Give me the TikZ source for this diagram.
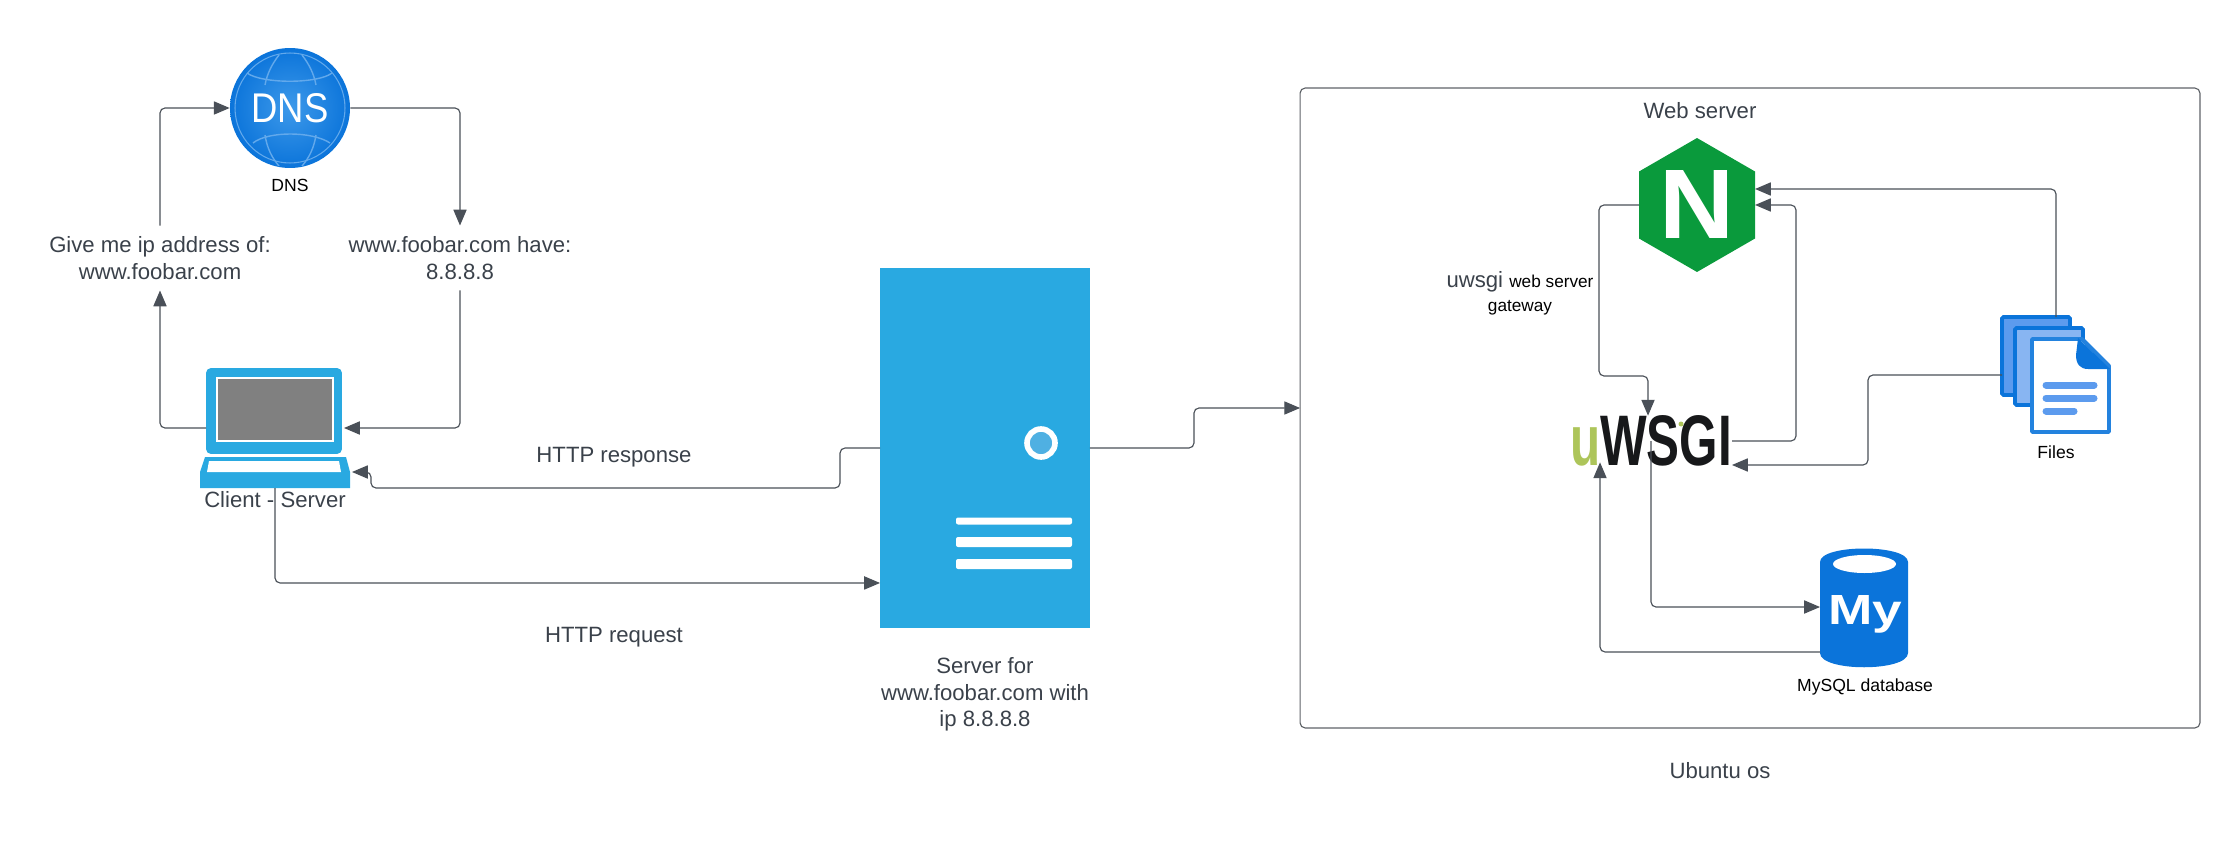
\documentclass[tikz,border=0pt]{standalone}
\usepackage{fontspec}
\setmainfont{Liberation Sans}
\usetikzlibrary{shapes,arrows.meta}
\definecolor{inkgrey}{HTML}{3A414A}
\definecolor{linegrey}{HTML}{4A5058}
\definecolor{boxgrey}{HTML}{5F6368}
\definecolor{skyblue}{HTML}{29A9E1}
\definecolor{ledblue}{HTML}{4FB0E2}
\definecolor{dbblue}{HTML}{0B74DA}
\definecolor{globecore}{HTML}{3D99EA}
\definecolor{sheetdark}{HTML}{5C9BEE}
\definecolor{sheetlight}{HTML}{88B5F2}
\definecolor{nginxgreen}{HTML}{0A9A3C}
\definecolor{wsgilime}{HTML}{ADC55A}
\definecolor{wsgiblack}{HTML}{17181A}
\definecolor{globeline}{HTML}{62A9EC}
\tikzstyle{conn} = [draw=linegrey, line width=.65pt, rounded corners=.1cm, -{Triangle[length=9pt,width=7.5pt]}]
\tikzstyle{caption} = [text=inkgrey, font=\fontsize{12.6}{15.2}\selectfont, align=center, inner sep=0pt, outer sep=0pt]
\tikzstyle{tiny} = [text=black, font=\fontsize{10}{12}\selectfont, align=center, inner sep=0pt, outer sep=0pt]
\tikzstyle{icon} = [rectangle, inner sep=0pt, outer sep=0pt]
\tikzstyle{sheet} = [icon, draw=dbblue, line width=2.2pt, rounded corners=.03cm, minimum width=1.36cm]
\tikzstyle{serverbar} = [icon, fill=white, rounded corners=.04cm, minimum width=2.32cm]
\begin{document}
\begin{tikzpicture}[x=.02cm, y=-.02cm]
   \useasboundingbox (0,0) rectangle (2240,858);

   \node[circle, inner sep=0pt, minimum size=2.4cm, inner color=globecore, outer color=dbblue] (dns) at (290,108) {};
   \node[circle, draw=globeline, line width=.6pt, minimum size=2.2cm, inner sep=0pt] (dnsring) at (dns) {};
   \draw[globeline, line width=.8pt] (247,73) .. controls (262,84) and (318,84) .. (332,73)
      (253,143) .. controls (268,131) and (312,131) .. (330,143)
      (279,55) .. controls (272,64) and (267,74) .. (265,85)
      (302,55) .. controls (309,64) and (314,74) .. (316,85)
      (265,135) .. controls (267,148) and (272,158) .. (279,166)
      (316,135) .. controls (314,148) and (309,158) .. (302,166);
   \node[icon, text=white] (dnsname) at (dns) {\resizebox{1.54cm}{.58cm}{DNS}};
   \node[tiny] (dnslabel) [below of=dns, node distance=1.54cm] {DNS};
   \node[caption, minimum height=1.3cm] (askip) at (160,258) {Give me ip address of:\\www.foobar.com};
   \node[caption, minimum height=1.3cm] (answer) at (460,258) {www.foobar.com have:\\8.8.8.8};

   \node[icon, fill=skyblue, rounded corners=.1cm, minimum width=2.72cm, minimum height=1.72cm] (screen) at (274,411) {};
   \node[icon, fill=gray, draw=white, line width=1.3pt, minimum width=2.32cm, minimum height=1.26cm] (display) at (275,409.5) {};
   \fill[skyblue] (205,457) -- (346,457) -- (350,472) -- (350,488) -- (200,488) -- (200,472) -- cycle;
   \fill[white] (209,461) -- (339,461) -- (341,472) -- (207,472) -- cycle;
   \coordinate (lapbase) at (275,488);
   \coordinate (lapkey) at (352,472);
   \coordinate (respturn) at (371,488);
   \node[caption] (clientlabel) at (275,500) {Client - Server};

   \node[icon, fill=skyblue, minimum width=4.2cm, minimum height=7.2cm] (server) at (985,448) {};
   \node[circle, fill=ledblue, draw=white, line width=3.2pt, minimum size=.56cm, inner sep=0pt] (led) at (1041,443) {};
   \foreach \ypos/\barh in {521/.14, 542/.2, 564/.2}
      \node[serverbar, minimum height=\barh cm] (bar\ypos) at (1014,\ypos) {};
   \node[caption] (serverlabel) at (985,694.5) {Server for\\www.foobar.com with\\ip 8.8.8.8};
   \node[caption] (resplabel) at (614,457.5) {HTTP response};
   \node[caption] (reqlabel) at (614,637.5) {HTTP request};

   \node[icon, draw=boxgrey, line width=.65pt, rounded corners=.1cm, minimum width=18cm, minimum height=12.8cm] (webbox) at (1750,408) {};
   \node[caption] (webwlabel) at (1700,111) {Web server};
   \node[caption] (ubuntulabel) at (1720,771) {Ubuntu os};

   \node[regular polygon, regular polygon sides=6, shape border rotate=30, fill=nginxgreen, text=white, minimum size=2.68cm, inner sep=0pt, outer sep=0pt] (nginx) at (1697,205) {\resizebox{1.5cm}{1.36cm}{\bfseries N}};
   \node[caption, font=\fontsize{12.6}{13.6}\selectfont] (gatewaylabel) at (1520,293) {uwsgi {\color{black}\fontsize{9.8}{13.6}\selectfont web server}\\{\color{black}\fontsize{9.8}{13.6}\selectfont gateway}};

   \node[icon, text=wsgiblack] (wsgi) at (1651,441) {\resizebox{3.24cm}{1cm}{\bfseries\textcolor{wsgilime}{u}WSGI}};
   \node[circle, fill=wsgilime, minimum size=.1cm, inner sep=0pt] (wsgidot) at (1681,424) {};

   \node[icon, minimum width=1.76cm, minimum height=2.38cm] (mysql) at (1864,607) {};
   \fill[dbblue] (1820,562) .. controls (1820,544) and (1908,544) .. (1908,562) -- (1908,653) .. controls (1908,672) and (1820,672) .. (1820,653) -- cycle;
   \node[ellipse, fill=white, minimum width=1.26cm, minimum height=.36cm, inner sep=0pt] (mysqltop) at (1864.5,564) {};
   \node[icon, text=white] (mysqlname) at (1865,614) {\resizebox{1.48cm}{.58cm}{\bfseries My}};
   \node[tiny] (mysqllabel) at (1865,687) {MySQL database};

   \node[sheet, fill=sheetdark, minimum height=1.56cm] (files) at (2036,356) {};
   \node[sheet, fill=sheetlight, minimum height=1.54cm] (filemid) at (2049,366.5) {};
   \draw[draw=dbblue!90!white, fill=white, line width=2.2pt, line join=round] (2032,339) -- (2082,339) -- (2109,366) -- (2109,432) -- (2032,432) -- cycle;
   \fill[dbblue] (2078,338) -- (2110,369) -- (2088,369) .. controls (2080,369) and (2076,364) .. (2076,355) -- cycle;
   \foreach \ypos/\xend in {385/2094, 398/2094, 411/2074}
      \draw[sheetdark, line width=.14cm, line cap=round] (2046,\ypos) -- (\xend,\ypos);
   \node[tiny] (fileslabel) at (2056,452) {Files};

   \draw[conn] (askip.north) |- (dns.west);
   \draw[conn] (dns.east) -| (answer.north);
   \draw[conn] ([yshift=-.34cm]screen.west) -| (askip.south);
   \draw[conn] (answer.south) |- ([yshift=-.34cm,xshift=.04cm]screen.east);
   \draw[conn] (server.west) -- ++(-40,0) |- (respturn) |- (lapkey);
   \draw[conn] (lapbase) |- ([yshift=-2.7cm]server.west);
   \draw[conn] (server.east) -- ++(104,0) |- (webbox.west);
   \draw[conn] ([xshift=.4cm]files.north) |- ([yshift=.32cm]nginx.east);
   \draw[conn] (wsgi.east) -- ++(64,0) |- (nginx.east);
   \draw[conn] (nginx.west) -- ++(-40,0) -- ++(0,171) -| ([xshift=-.06cm]wsgi.north);
   \draw[conn] ([yshift=-.38cm]files.west) -- ++(-134,0) |- ([yshift=-.48cm]wsgi.east);
   \draw[conn] (wsgi.center) |- (mysql.west);
   \draw[conn] ([yshift=-.9cm]mysql.west) -| ([xshift=-1.02cm,yshift=.08cm]wsgi.south);
\end{tikzpicture}
\end{document}
